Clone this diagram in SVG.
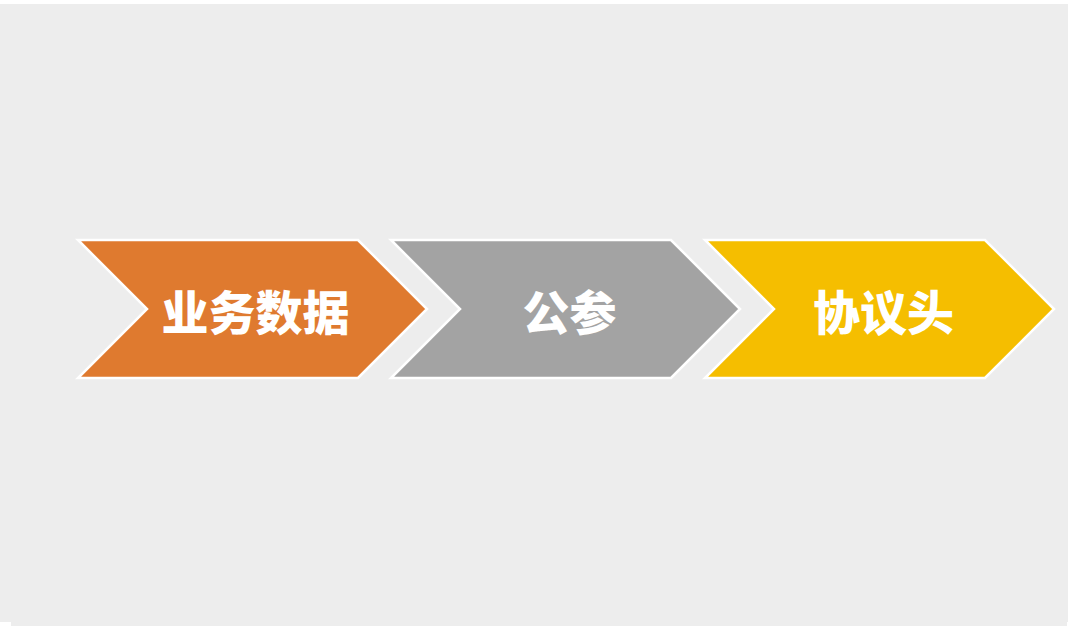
<svg xmlns="http://www.w3.org/2000/svg" width="1070" height="626" viewBox="0 0 1070 626">
<style>
.chev{stroke:#ffffff;stroke-width:2.5;stroke-linejoin:miter}
.lbl{font-family:"Noto Sans CJK SC","Noto Sans",sans-serif;font-weight:900;font-size:47px;fill:#ffffff;text-anchor:middle;dominant-baseline:central}
</style>
<rect x="0" y="0" width="1070" height="626" fill="#ffffff"/>
<rect x="0" y="4" width="1068" height="618" fill="#ededed"/>
<rect x="11" y="621" width="1056" height="5" fill="#ededed"/>
<g id="connectors"></g>
<g id="node-1">
<polygon class="chev" fill="#df7a2f" points="78,240 358,240 427,309 358,378 78,378 147,309"/>
<text class="lbl" x="255.5" y="309">业务数据</text>
</g>
<g id="node-2">
<polygon class="chev" fill="#a3a3a3" points="391,240 671,240 740,309 671,378 391,378 460,309"/>
<text class="lbl" x="569.5" y="309">公参</text>
</g>
<g id="node-3">
<polygon class="chev" fill="#f5be00" points="705,240 985,240 1054,309 985,378 705,378 774,309"/>
<text class="lbl" x="883.5" y="309">协议头</text>
</g>
</svg>
